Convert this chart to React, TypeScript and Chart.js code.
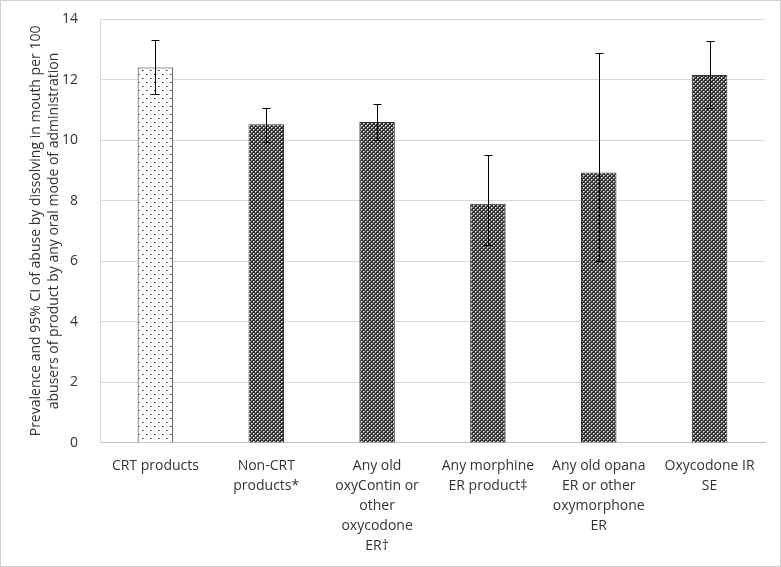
import React, { useEffect, useRef } from "react";
import { Chart, registerables } from "chart.js";

Chart.register(...registerables);

const categories: (string | string[])[] = [
  "CRT products",
  ["Non-CRT", "products*"],
  ["Any old", "oxyContin or", "other", "oxycodone", "ER\u2020"],
  ["Any morphine", "ER product\u2021"],
  ["Any old opana", "ER or other", "oxymorphone", "ER"],
  ["Oxycodone IR", "SE"],
];
const prevalence = [12.4, 10.52, 10.6, 7.9, 8.93, 12.15];
const ciUpper = [13.3, 11.07, 11.2, 9.5, 12.88, 13.27];
const ciLower = [11.53, 9.95, 10.0, 6.55, 6.0, 11.05];
const yTicks = [0, 2, 4, 6, 8, 10, 12, 14];

const FONT = "'Open Sans', 'Noto Sans', sans-serif";

function makeDotPattern(): CanvasPattern | string {
  const c = document.createElement("canvas");
  c.width = 8;
  c.height = 8;
  const ctx = c.getContext("2d");
  if (!ctx) return "#fff";
  ctx.fillStyle = "#ffffff";
  ctx.fillRect(0, 0, 8, 8);
  ctx.fillStyle = "#222222";
  ctx.fillRect(1, 1, 1, 1);
  ctx.fillRect(5, 5, 1, 1);
  ctx.fillStyle = "#9a9a9a";
  ctx.fillRect(2, 1, 1, 1);
  ctx.fillRect(6, 5, 1, 1);
  return ctx.createPattern(c, "repeat") || "#fff";
}

function makeCheckPattern(): CanvasPattern | string {
  const c = document.createElement("canvas");
  c.width = 4;
  c.height = 4;
  const ctx = c.getContext("2d");
  if (!ctx) return "#555";
  ctx.fillStyle = "#2c2c2c";
  ctx.fillRect(0, 0, 4, 4);
  ctx.fillStyle = "#f0f0f0";
  ctx.fillRect(0, 0, 1, 1);
  ctx.fillRect(2, 2, 1, 1);
  ctx.fillStyle = "#a8a8a8";
  ctx.fillRect(1, 0, 1, 1);
  ctx.fillRect(0, 1, 1, 1);
  ctx.fillRect(3, 2, 1, 1);
  ctx.fillRect(2, 3, 1, 1);
  return ctx.createPattern(c, "repeat") || "#555";
}

const errorBarPlugin = {
  id: "errorBars",
  afterDatasetsDraw(chart: any) {
    const meta = chart.getDatasetMeta(0);
    const y = chart.scales.y;
    const ctx = chart.ctx;
    ctx.save();
    ctx.strokeStyle = "#000";
    ctx.lineWidth = 1;
    meta.data.forEach((bar: any, i: number) => {
      const x = Math.round(bar.x) + 0.5;
      const yt = Math.round(y.getPixelForValue(ciUpper[i])) + 0.5;
      const yb = Math.round(y.getPixelForValue(ciLower[i])) + 0.5;
      ctx.beginPath();
      ctx.moveTo(x, yt);
      ctx.lineTo(x, yb);
      ctx.moveTo(x - 4, yt);
      ctx.lineTo(x + 4, yt);
      ctx.moveTo(x - 4, yb);
      ctx.lineTo(x + 4, yb);
      ctx.stroke();
    });
    ctx.restore();
  },
};

export default function App() {
  const ref = useRef<HTMLCanvasElement>(null);
  useEffect(() => {
    if (!ref.current) return;
    const dots = makeDotPattern();
    const check = makeCheckPattern();
    const chart = new Chart(ref.current, {
      type: "bar",
      data: {
        labels: categories,
        datasets: [
          {
            data: prevalence,
            backgroundColor: prevalence.map((_, i) => (i === 0 ? dots : check)) as any,
            borderColor: "#333333",
            borderWidth: 1,
            categoryPercentage: 1,
            barPercentage: 0.32,
          },
        ],
      },
      options: {
        animation: false,
        responsive: true,
        maintainAspectRatio: false,
        layout: { padding: { left: 26, right: 15, top: 18, bottom: 5 } },
        plugins: { legend: { display: false }, tooltip: { enabled: false } },
        scales: {
          x: {
            grid: { display: false },
            border: { color: "#bfbfbf", width: 1 },
            ticks: {
              color: "#333",
              font: { family: FONT, size: 14, lineHeight: 1.43 },
              maxRotation: 0,
              minRotation: 0,
              autoSkip: false,
              padding: 5,
            },
          },
          y: {
            min: 0,
            max: 14,
            afterBuildTicks: (s: any) => {
              s.ticks = yTicks.map((v) => ({ value: v }));
            },
            afterFit: (s: any) => {
              s.width = 73;
              s.paddingTop = 0;
              s.paddingBottom = 0;
            },
            grid: { color: "#d9d9d9", drawTicks: false },
            border: { color: "#d9d9d9", width: 1 },
            ticks: {
              color: "#333",
              font: { family: FONT, size: 14 },
              padding: 22,
            },
            title: {
              display: true,
              text: [
                "Prevalence and 95% CI of abuse by dissolving in mouth per 100",
                "abusers of product by any oral mode of administration",
              ],
              color: "#333",
              font: { family: FONT, size: 14, lineHeight: 1.3 },
              padding: { top: 0, bottom: 4 },
            },
          },
        },
      },
      plugins: [errorBarPlugin],
    });
    return () => chart.destroy();
  }, []);
  return (
    <div
      style={{
        position: "fixed",
        left: 0,
        top: 0,
        width: 781,
        height: 567,
        boxSizing: "border-box",
        border: "1px solid #d0d0d0",
        background: "#fff",
      }}
    >
      <canvas ref={ref} />
    </div>
  );
}
